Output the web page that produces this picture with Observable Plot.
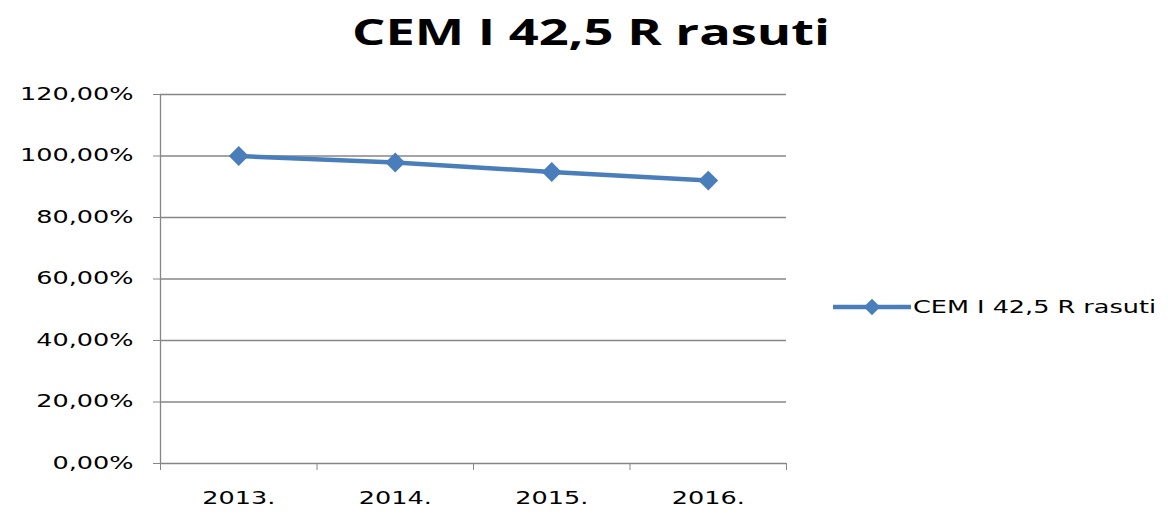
<!DOCTYPE html>
<html><head><meta charset="utf-8">
<script src="https://cdn.jsdelivr.net/npm/d3@7"></script>
<script src="https://cdn.jsdelivr.net/npm/@observablehq/plot@0.6"></script>
<style>
body{margin:0;background:#fff;font-family:"DejaVu Sans",sans-serif;}
#wrap{position:relative;width:1168px;height:515px;overflow:hidden;}
#title{position:absolute;left:591px;top:14px;font-family:"Open Sans",sans-serif;font-weight:bold;font-size:35px;line-height:1;color:#000;white-space:nowrap;display:inline-block;transform-origin:0 50%;}
#chart{position:absolute;left:0;top:75px;}
#legend{position:absolute;left:833px;top:295px;height:24px;display:flex;align-items:center;}
#legend span{display:inline-block;font-size:17px;color:#000;white-space:nowrap;transform-origin:0 50%;transform:scaleX(1.5);margin-left:2px;}
</style></head><body>
<div id="wrap">
<div id="title"></div>
<div id="chart"></div>
<div id="legend"></div>
</div>
<script>
const titleText = "CEM I 42,5 R rasuti";
const seriesName = "CEM I 42,5 R rasuti";
const years = ["2013.", "2014.", "2015.", "2016."];
const values = [100.0, 97.9, 94.8, 92.0];
const yTicks = [0, 20, 40, 60, 80, 100, 120];

const lineColor = "#4a7ebb";
const gridColor = "#868686";
const fmt = v => v.toFixed(2).replace(".", ",") + "%";

const data = years.map((y, i) => ({pos: i + 0.5, year: y, value: values[i]}));
const boundaries = d3.range(years.length + 1);

const chart = Plot.plot({
  width: 1168,
  height: 440,
  marginTop: 19,
  marginBottom: 52,
  marginLeft: 160,
  marginRight: 382,
  style: {fontSize: "17px", fontFamily: "DejaVu Sans", color: "#000", background: "transparent"},
  x: {type: "linear", domain: [0, years.length]},
  y: {domain: [0, 120]},
  marks: [
    Plot.ruleY(yTicks, {stroke: gridColor, strokeWidth: 1.3}),
    Plot.ruleX([0], {stroke: gridColor, strokeWidth: 1.3}),
    Plot.axisY({ticks: yTicks, tickSize: 7, tickPadding: 20, tickFormat: fmt, stroke: gridColor, fill: "#000", label: null}),
    Plot.axisX({ticks: boundaries, tickSize: 7, tickFormat: () => "", stroke: gridColor, label: null}),
    Plot.axisX({ticks: data.map(d => d.pos), tickSize: 0, tickPadding: 28, tickFormat: (v) => years[Math.round(v - 0.5)], fill: "#000", label: null}),
    Plot.line(data, {x: "pos", y: "value", stroke: lineColor, strokeWidth: 4.5}),
    Plot.dot(data, {x: "pos", y: "value", symbol: "diamond2", r: 8, fill: lineColor, stroke: lineColor, strokeWidth: 1.5})
  ]
});
document.getElementById("chart").appendChild(chart);

// horizontally stretched text, as in the reference
chart.querySelectorAll("text").forEach(t => {
  const L = t.getComputedTextLength();
  if (L > 0) {
    t.setAttribute("textLength", (L * 1.5).toFixed(1));
    t.setAttribute("lengthAdjust", "spacingAndGlyphs");
  }
});

// title
const titleEl = document.getElementById("title");
titleEl.textContent = titleText;
const tw = titleEl.getBoundingClientRect().width;
const k = 478 / tw;
titleEl.style.transform = `translateX(${-239}px) scaleX(${k})`;

// legend
const legend = document.getElementById("legend");
const ns = "http://www.w3.org/2000/svg";
const sw = document.createElementNS(ns, "svg");
sw.setAttribute("width", 78); sw.setAttribute("height", 24);
const ln = document.createElementNS(ns, "line");
ln.setAttribute("x1", 0); ln.setAttribute("x2", 78); ln.setAttribute("y1", 12); ln.setAttribute("y2", 12);
ln.setAttribute("stroke", lineColor); ln.setAttribute("stroke-width", 4.5);
sw.appendChild(ln);
const dm = document.createElementNS(ns, "path");
dm.setAttribute("d", d3.symbol(d3.symbolDiamond2, 130)());
dm.setAttribute("transform", "translate(39,12)");
dm.setAttribute("fill", lineColor); dm.setAttribute("stroke", lineColor); dm.setAttribute("stroke-width", 1.5);
sw.appendChild(dm);
legend.appendChild(sw);
const lt = document.createElement("span");
lt.textContent = seriesName;
legend.appendChild(lt);
</script>
</body></html>
